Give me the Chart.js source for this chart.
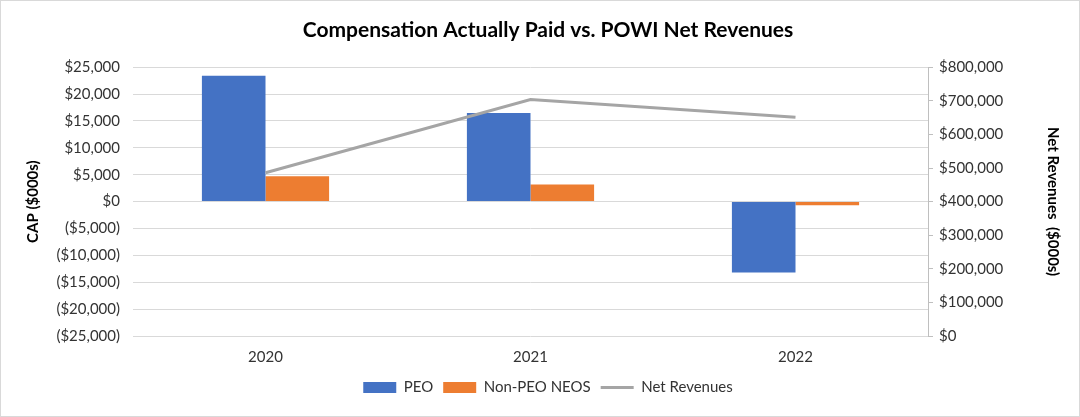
<!DOCTYPE html>
<html>
<head>
<meta charset="utf-8">
<script src="https://cdn.jsdelivr.net/npm/chart.js@4"></script>
<style>
  html, body { margin: 0; padding: 0; background: #fff; }
  #wrap { width: 1080px; height: 417px; position: relative; }
</style>
</head>
<body>
<div id="wrap"><canvas id="c" width="1080" height="417"></canvas></div>
<script>
const years = ['2020', '2021', '2022'];
const peo = [23400, 16500, -13200];
const nonPeo = [4700, 3200, -700];
const netRevenues = [486000, 704000, 651000];

const FONT = 'Lato, "Open Sans", sans-serif';
const ORDER = ['PEO', 'Non-PEO NEOS', 'Net Revenues'];

const money = (v) => {
  const s = '$' + Math.abs(v).toLocaleString('en-US');
  return v < 0 ? '(' + s + ')' : s;
};

// light frame round the whole chart
const frame = {
  id: 'frame',
  afterDraw(chart) {
    const ctx = chart.ctx;
    ctx.save();
    ctx.strokeStyle = '#d9d9d9';
    ctx.lineWidth = 1;
    ctx.strokeRect(0.5, 0.5, chart.width - 1, chart.height - 1);
    ctx.restore();
  }
};

new Chart(document.getElementById('c'), {
  data: {
    labels: years,
    datasets: [
      {
        type: 'line',
        label: 'Net Revenues',
        data: netRevenues,
        yAxisID: 'y1',
        borderColor: '#A5A5A5',
        backgroundColor: '#A5A5A5',
        borderWidth: 3,
        pointRadius: 0,
        tension: 0,
        order: 0
      },
      {
        type: 'bar',
        label: 'PEO',
        data: peo,
        yAxisID: 'y',
        backgroundColor: '#4472C4',
        borderColor: '#4472C4',
        order: 1
      },
      {
        type: 'bar',
        label: 'Non-PEO NEOS',
        data: nonPeo,
        yAxisID: 'y',
        backgroundColor: '#ED7D31',
        borderColor: '#ED7D31',
        order: 1
      }
    ]
  },
  options: {
    responsive: false,
    animation: false,
    layout: { padding: { left: 20, right: 4, top: 0, bottom: 12 } },
    datasets: {
      bar: { categoryPercentage: 0.48, barPercentage: 1 }
    },
    plugins: {
      title: {
        display: true,
        text: 'Compensation Actually Paid vs. POWI Net Revenues',
        color: '#000',
        font: { family: FONT, size: 21, weight: 'bold' },
        padding: { top: 18, bottom: 24 }
      },
      legend: {
        position: 'bottom',
        labels: {
          color: '#333',
          font: { family: FONT, size: 15 },
          usePointStyle: true,
          pointStyleWidth: 33,
          boxHeight: 11,
          padding: 10,
          sort: (a, b) => ORDER.indexOf(a.text) - ORDER.indexOf(b.text),
          generateLabels(chart) {
            const items = Chart.defaults.plugins.legend.labels.generateLabels(chart);
            items.forEach((it) => {
              it.pointStyle = it.text === 'Net Revenues' ? 'line' : 'rect';
            });
            return items;
          }
        }
      },
      tooltip: { enabled: false }
    },
    scales: {
      x: {
        grid: { display: false },
        border: { display: false },
        ticks: { color: '#333', font: { family: FONT, size: 15 }, padding: 4 }
      },
      y: {
        position: 'left',
        min: -25000,
        max: 25000,
        ticks: {
          stepSize: 5000,
          color: '#333',
          font: { family: FONT, size: 15 },
          padding: 13,
          callback: (v) => money(v)
        },
        grid: { color: '#d9d9d9', drawTicks: false },
        border: { display: false },
        title: {
          display: true,
          text: 'CAP ($000s)',
          color: '#000',
          font: { family: FONT, size: 15, weight: 'bold' },
          padding: { bottom: 2 }
        },
        afterFit(scale) { scale.width = 113; }
      },
      y1: {
        position: 'right',
        min: 0,
        max: 800000,
        ticks: {
          stepSize: 100000,
          color: '#333',
          font: { family: FONT, size: 15 },
          padding: 6,
          callback: (v) => money(v)
        },
        grid: { drawOnChartArea: false, color: '#bfbfbf', tickLength: 5 },
        border: { display: true, color: '#bfbfbf' },
        title: {
          display: true,
          text: 'Net Revenues  ($000s)',
          color: '#000',
          font: { family: FONT, size: 15, weight: 'bold' },
          padding: { top: 14 }
        },
        afterFit(scale) { scale.width = 148; }
      }
    }
  },
  plugins: [frame]
});
</script>
</body>
</html>
